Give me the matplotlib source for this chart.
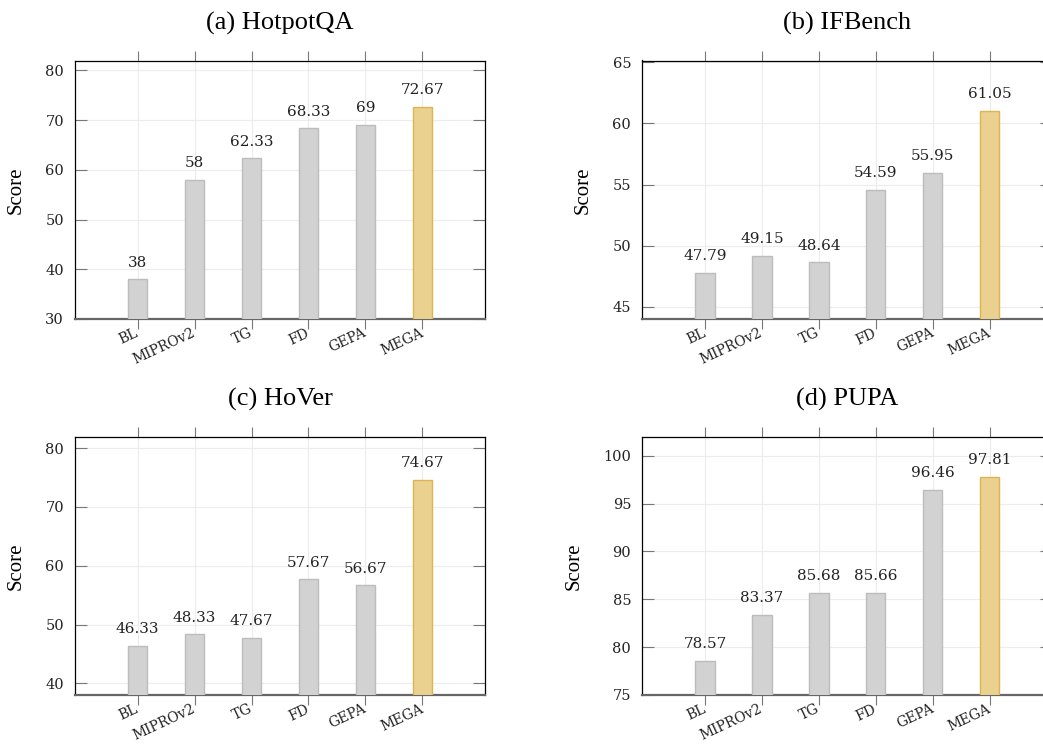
import matplotlib
matplotlib.use("Agg")
import matplotlib.pyplot as plt
import matplotlib.transforms as mtransforms

methods = ["BL", "MIPROv2", "TG", "FD", "GEPA", "MEGA"]
hotpotqa = [38, 58, 62.33, 68.33, 69, 72.67]
ifbench = [47.79, 49.15, 48.64, 54.59, 55.95, 61.05]
hover = [46.33, 48.33, 47.67, 57.67, 56.67, 74.67]
pupa = [78.57, 83.37, 85.68, 85.66, 96.46, 97.81]

titles = ["(a) HotpotQA", "(b) IFBench", "(c) HoVer", "(d) PUPA"]
ylims = [(30, 82), (44, 65.15), (38, 82), (75, 102)]
yticks = [range(30, 81, 10), range(45, 66, 5), range(40, 81, 10), range(75, 101, 5)]

gray_fill, gray_edge = "#d2d2d2", "#bcbcbc"
gold_fill, gold_edge = "#ead18f", "#ddb54e"

fig = plt.figure(figsize=(10.43, 7.44), dpi=100)
w, h = 410 / 1043, 258.5 / 744
positions = [
    (75 / 1043, 1 - 319 / 744),
    (642.3 / 1043, 1 - 319 / 744),
    (75 / 1043, 1 - 695 / 744),
    (642.3 / 1043, 1 - 695 / 744),
]
label_x = [-0.12, -0.12, -0.12, -0.144]

# shift rotated x labels a little to the left
shift = mtransforms.ScaledTranslation(-7 / 100, 0, fig.dpi_scale_trans)

for i, data in enumerate([hotpotqa, ifbench, hover, pupa]):
    ax = fig.add_axes([positions[i][0], positions[i][1], w, h])
    x = list(range(len(methods)))
    fills = [gray_fill] * 5 + [gold_fill]
    edges = [gray_edge] * 5 + [gold_edge]
    bars = ax.bar(x, data, width=0.34, color=fills, edgecolor=edges, linewidth=1.0, zorder=3)
    ax.bar_label(bars, labels=["%g" % v for v in data], padding=7,
                 fontsize=11, family="DejaVu Serif", color="#222222")

    ax.set_xlim(-1.1, 6.1)
    ax.set_ylim(*ylims[i])
    ax.set_yticks(list(yticks[i]))
    ax.set_xticks(x)
    ax.set_xticklabels(methods, rotation=25, ha="right", va="center", rotation_mode="anchor",
                       family="DejaVu Serif", fontsize=10)
    for lab in ax.get_xticklabels():
        lab.set_transform(lab.get_transform() + shift)
    for lab in ax.get_yticklabels():
        lab.set_family("DejaVu Serif")
        lab.set_fontsize(10.5)

    ax.grid(True, color="#ececec", linewidth=0.8, zorder=0)
    ax.set_axisbelow(True)

    ax.tick_params(axis="y", direction="in", left=True, right=True, length=8.5,
                   width=0.8, color="#777777", pad=8, labelcolor="#222222")
    ax.tick_params(axis="x", direction="out", bottom=True, top=True, length=7.5,
                   width=0.8, color="#777777", pad=2, labelcolor="#222222")

    for side in ["top", "left", "right"]:
        ax.spines[side].set_linewidth(0.9)
        ax.spines[side].set_color("black")
    ax.spines["bottom"].set_linewidth(1.6)
    ax.spines["bottom"].set_color("#666666")

    ax.set_ylabel("Score", family="Liberation Serif", fontsize=15)
    ax.yaxis.set_label_coords(label_x[i], 0.5)
    ax.text(0.5, 1.118, titles[i], transform=ax.transAxes, ha="center", va="baseline",
            family="Liberation Serif", fontsize=19)

fig.savefig("out.png", dpi=100)
